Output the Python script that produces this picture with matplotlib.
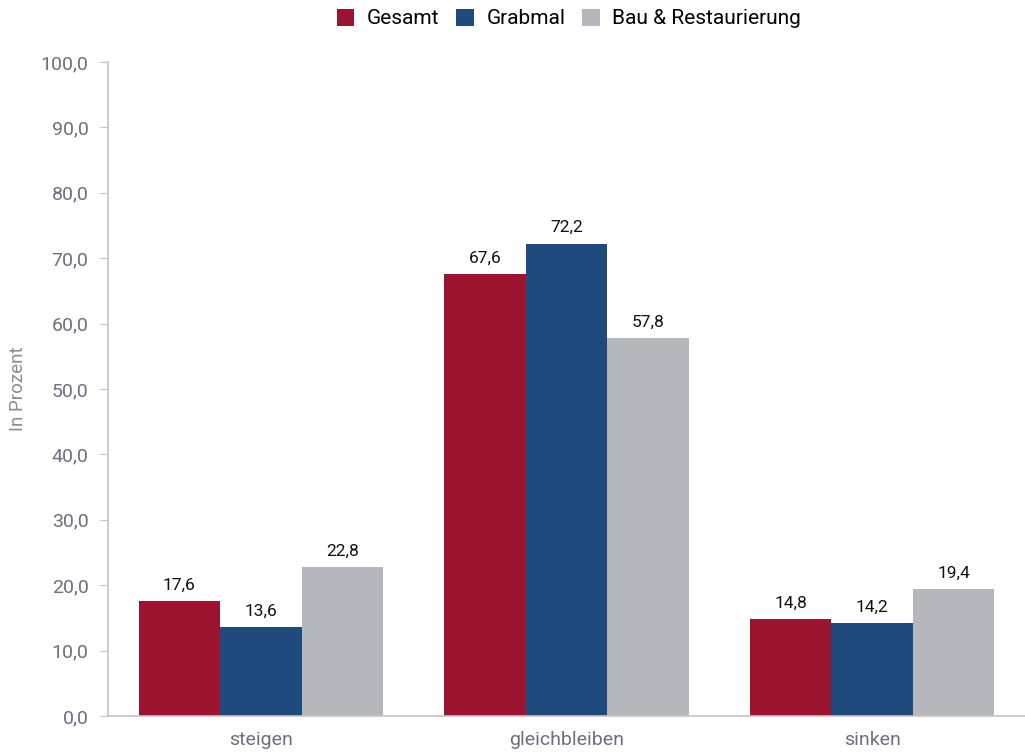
import numpy as np
import matplotlib.pyplot as plt
from matplotlib.ticker import FuncFormatter

# Daten
kategorien = ['steigen', 'gleichbleiben', 'sinken']
gesamt = [17.6, 67.6, 14.8]
grabmal = [13.6, 72.2, 14.2]
bau = [22.8, 57.8, 19.4]
serien = ['Gesamt', 'Grabmal', 'Bau & Restaurierung']
farben = ['#9b1530', '#1f4a7e', '#b6b7bc']

plt.rcParams['font.family'] = ['Roboto', 'DejaVu Sans']

fig = plt.figure(figsize=(10.25, 7.53), dpi=100)
ax = fig.add_axes([0.1054, 0.0491, 0.8946, 0.8686])

x = np.arange(len(kategorien))
w = 0.8 / 3
for i, (werte, name, farbe) in enumerate(zip([gesamt, grabmal, bau], serien, farben)):
    bars = ax.bar(x + (i - 1) * w, werte, w, color=farbe, label=name)
    for b, v in zip(bars, werte):
        ax.text(b.get_x() + b.get_width() / 2, v + 1.3, f'{v:.1f}'.replace('.', ','),
                ha='center', va='bottom', fontsize=12.5, color='#111111')

ax.set_xlim(-0.5, 2.5)
ax.set_ylim(0, 100)
ax.set_yticks(np.arange(0, 101, 10))
ax.yaxis.set_major_formatter(FuncFormatter(lambda v, p: f'{v:.1f}'.replace('.', ',')))
ax.set_xticks(x)
ax.set_xticklabels(kategorien)

for s in ['top', 'right']:
    ax.spines[s].set_visible(False)
for s in ['left', 'bottom']:
    ax.spines[s].set_color('#c4c4c8')
    ax.spines[s].set_linewidth(1.2)

ax.tick_params(axis='y', colors='#c4c4c8', labelcolor='#6e6e80', labelsize=14, length=6, pad=8)
ax.tick_params(axis='x', length=0, labelcolor='#6e6e80', labelsize=14, pad=11)
ax.set_ylabel('In Prozent', color='#8a8a98', fontsize=13.5, labelpad=10)

fig.legend(loc='upper center', bbox_to_anchor=(0.555, 1.013), ncol=3, frameon=False,
           fontsize=15, handlelength=0.85, handleheight=0.85, handletextpad=0.6,
           columnspacing=0.8)

fig.savefig('out.png', dpi=100)
